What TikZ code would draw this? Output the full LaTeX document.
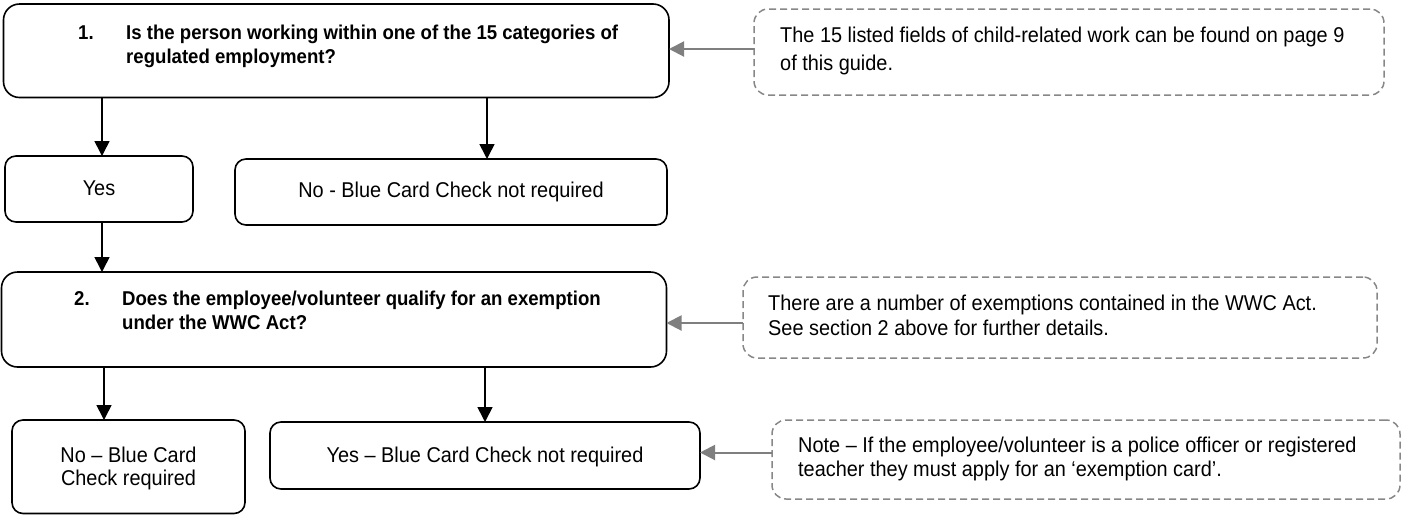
\documentclass[tikz,border=0pt]{standalone}
\usepackage{fontspec}
\setmainfont{Liberation Sans}[FakeStretch=0.93]
\usetikzlibrary{arrows.meta,calc}
\definecolor{notegray}{RGB}{135,135,135}
\definecolor{arrgray}{RGB}{127,127,127}
\begin{document}
\begin{tikzpicture}[x=1pt,y=-1pt,
  box/.style={draw=black, line width=1.6pt, inner sep=0pt, outer sep=0pt, anchor=north west},
  qbox/.style={box, rounded corners=16pt},
  abox/.style={box, rounded corners=11pt},
  notebox/.style={draw=notegray, line width=1.5pt, dash pattern=on 7pt off 4pt, rounded corners=14pt, inner sep=0pt, outer sep=0pt, anchor=north west},
  arr/.style={draw=black, line width=1.6pt, -{Triangle[width=15pt,length=15pt]}},
  garr/.style={draw=arrgray, line width=2pt, -{Triangle[width=15pt,length=15pt]}},
  qtext/.style={anchor=base west, inner sep=0pt, font=\fontsize{20}{24}\selectfont\bfseries},
  rtext/.style={anchor=base, inner sep=0pt, font=\fontsize{21.4}{25}\selectfont},
  ntext/.style={anchor=base west, inner sep=0pt, font=\fontsize{21.4}{25}\selectfont},
]
\useasboundingbox (0,0) rectangle (1402,515);

% boxes
\node[qbox, minimum width=665.5pt, minimum height=93.5pt] (q1) at (3.5,4) {};
\node[abox, minimum width=188pt, minimum height=66pt] (yes1) at (5,156) {};
\node[abox, minimum width=432pt, minimum height=66pt] (no1) at (235,159) {};
\node[qbox, minimum width=665pt, minimum height=95pt] (q2) at (1.5,272) {};
\node[abox, minimum width=233pt, minimum height=93.5pt] (nobc) at (12,420) {};
\node[abox, minimum width=430pt, minimum height=67pt] (yesbc) at (270,422) {};

% notes
\node[notebox, minimum width=630pt, minimum height=86pt] (n1) at (754,9) {};
\node[notebox, minimum width=634pt, minimum height=81pt] (n2) at (743,277) {};
\node[notebox, minimum width=628pt, minimum height=79pt] (n3) at (772,420) {};

% texts
\node[qtext] (q1num) at (78,39) {1.};
\node[qtext] (q1l1) at (126,39) {Is the person working within one of the 15 categories of};
\node[qtext] (q1l2) at (126,63) {regulated employment?};
\node[rtext] (yes1t) at (99,195) {Yes};
\node[rtext] (no1t) at (451,197) {No - Blue Card Check not required};
\node[qtext] (q2num) at (74,305) {2.};
\node[qtext] (q2l1) at (122,305) {Does the employee/volunteer qualify for an exemption};
\node[qtext] (q2l2) at (122,329) {under the WWC Act?};
\node[rtext] (nobc1) at (128.5,462) {No – Blue Card};
\node[rtext] (nobc2) at (128.5,485) {Check required};
\node[rtext] (yesbct) at (485,462) {Yes – Blue Card Check not required};
\node[ntext] (n1l1) at (780,42) {The 15 listed fields of child-related work can be found on page 9};
\node[ntext] (n1l2) at (780,70) {of this guide.};
\node[ntext] (n2l1) at (768,310) {There are a number of exemptions contained in the WWC Act.};
\node[ntext] (n2l2) at (768,335) {See section 2 above for further details.};
\node[ntext] (n3l1) at (798,452) {Note – If the employee/volunteer is a police officer or registered};
\node[ntext] (n3l2) at (798,476) {teacher they must apply for an ‘exemption card’.};

% connectors
\draw[arr] ([xshift=3pt]yes1.north |- q1.south) -- ([xshift=3pt]yes1.north);
\draw[arr] ([xshift=36pt]no1.north |- q1.south) -- ([xshift=36pt]no1.north);
\draw[arr] ([xshift=3pt]yes1.south) -- ([xshift=3pt]yes1.south |- q2.north);
\draw[arr] ([xshift=-24.5pt]nobc.north |- q2.south) -- ([xshift=-24.5pt]nobc.north);
\draw[arr] (yesbc.north |- q2.south) -- (yesbc.north);
\draw[garr] ([yshift=3pt]n1.west) -- ([yshift=3pt]n1.west -| q1.east);
\draw[garr] ([yshift=-5.5pt]n2.west) -- ([yshift=-5.5pt]n2.west -| q2.east);
\draw[garr] ([yshift=3pt]n3.west |- yesbc.east) -- ([yshift=3pt]yesbc.east);
\end{tikzpicture}
\end{document}
